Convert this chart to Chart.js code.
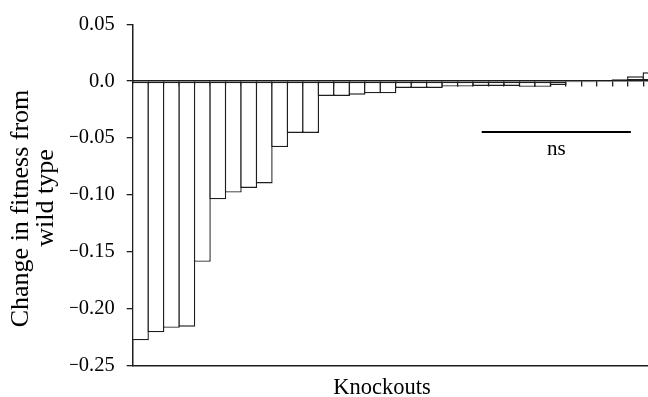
<!DOCTYPE html>
<html>
<head>
<meta charset="utf-8">
<script src="https://cdn.jsdelivr.net/npm/chart.js@4.4.1/dist/chart.umd.min.js"></script>
<style>
  html, body { margin: 0; padding: 0; background: #fff; overflow: hidden; width: 648px; height: 397px; }
  #wrap { position: absolute; left: 0; top: 0; width: 680px; height: 397px; }
</style>
</head>
<body>
<div id="wrap"><canvas id="c" width="680" height="397"></canvas></div>
<script>
// ---- data ----
const categories = ['KO1','KO2','KO3','KO4','KO5','KO6','KO7','KO8','KO9','KO10',
  'KO11','KO12','KO13','KO14','KO15','KO16','KO17','KO18','KO19','KO20',
  'KO21','KO22','KO23','KO24','KO25','KO26','KO27','KO28','KO29','KO30',
  'KO31','KO32','KO33','KO34'];
const fitnessChange = [-0.228, -0.221, -0.217, -0.216, -0.159, -0.104, -0.098, -0.094, -0.090, -0.058,
  -0.0456, -0.0456, -0.013, -0.013, -0.012, -0.0107, -0.0107, -0.006, -0.006, -0.006,
  -0.0048, -0.0048, -0.0042, -0.0042, -0.0042, -0.005, -0.005, -0.0035, -0.001, -0.001,
  0.0003, 0.0017, 0.0043, 0.0078];
const yTickValues = [0.05, 0.0, -0.05, -0.10, -0.15, -0.20, -0.25];
const yTickLabels = ['0.05', '0.0', '\u22120.05', '\u22120.10', '\u22120.15', '\u22120.20', '\u22120.25'];
const yTitleLines = ['Change in fitness from', 'wild type'];
const xTitle = 'Knockouts';
const nsLabel = 'ns';
const nsFrom = 22.06;   // category position (index units, centre-based)
const nsTo = 31.7;
const nsValue = -0.0447;

const FONT = '"Liberation Serif", "Times New Roman", serif';
const INK = '#1e1e1e';

const annotate = {
  id: 'annotate',
  afterDraw(chart) {
    const ctx = chart.ctx;
    const xs = chart.scales.x, ys = chart.scales.y;
    const step = xs.getPixelForValue(1) - xs.getPixelForValue(0);
    const px = (v) => xs.getPixelForValue(Math.floor(v)) + (v - Math.floor(v)) * step;
    const x1 = px(nsFrom), x2 = px(nsTo), yy = ys.getPixelForValue(nsValue);
    ctx.save();
    ctx.strokeStyle = '#000';
    ctx.lineWidth = 2;
    ctx.beginPath(); ctx.moveTo(x1, yy); ctx.lineTo(x2, yy); ctx.stroke();
    ctx.fillStyle = '#000';
    ctx.textAlign = 'center';
    ctx.textBaseline = 'alphabetic';
    ctx.font = '21px ' + FONT;
    ctx.fillText(nsLabel, (x1 + x2) / 2, yy + 23.5);
    // x title
    ctx.font = '22.5px ' + FONT;
    ctx.fillText(xTitle, 382, 394);
    // y title (two lines)
    ctx.font = '26px ' + FONT;
    ctx.save();
    ctx.translate(27.5, 208.5); ctx.rotate(-Math.PI / 2); ctx.fillText(yTitleLines[0], 0, 0);
    ctx.restore();
    ctx.save();
    ctx.translate(52.5, 198); ctx.rotate(-Math.PI / 2); ctx.fillText(yTitleLines[1], 0, 0);
    ctx.restore();
    ctx.restore();
  }
};

new Chart(document.getElementById('c'), {
  type: 'bar',
  data: {
    labels: categories,
    datasets: [{
      data: fitnessChange,
      backgroundColor: '#ffffff',
      borderColor: INK,
      borderWidth: 1.4,
      borderSkipped: false,
      categoryPercentage: 1,
      barPercentage: 1.09,
      xAxisID: 'x',
      yAxisID: 'y'
    }]
  },
  options: {
    responsive: false,
    animation: false,
    events: [],
    layout: { padding: { left: 70, top: 20.7, right: 21.3, bottom: 0 } },
    plugins: { legend: { display: false }, tooltip: { enabled: false }, title: { display: false } },
    scales: {
      y: {
        position: 'left',
        min: -0.25, max: 0.05,
        afterFit: (s) => { s.width = 62.7; },
        afterBuildTicks: (s) => { s.ticks = yTickValues.map(v => ({ value: v })); },
        ticks: {
          color: '#000',
          padding: 12,
          font: { family: FONT, size: 20.5 },
          callback: (v) => {
            const i = yTickValues.findIndex(t => Math.abs(t - v) < 1e-9);
            return i >= 0 ? yTickLabels[i] : '';
          }
        },
        grid: { display: true, drawOnChartArea: false, drawTicks: true, tickLength: 6, color: INK, lineWidth: 1.3 },
        border: { display: true, color: INK, width: 1.5 }
      },
      x: {
        type: 'category',
        position: { y: 0 },
        offset: true,
        ticks: { display: false },
        grid: { display: true, offset: true, drawOnChartArea: false, drawTicks: true, tickLength: 5, color: INK, lineWidth: 1.3 },
        border: { display: true, color: INK, width: 1.5 }
      },
      x2: {
        type: 'category',
        position: 'bottom',
        offset: true,
        afterFit: (s) => { s.height = 31.7; },
        ticks: { display: false },
        grid: { display: false, drawTicks: false },
        border: { display: true, color: INK, width: 1.5 }
      }
    }
  },
  plugins: [annotate]
});
</script>
</body>
</html>
